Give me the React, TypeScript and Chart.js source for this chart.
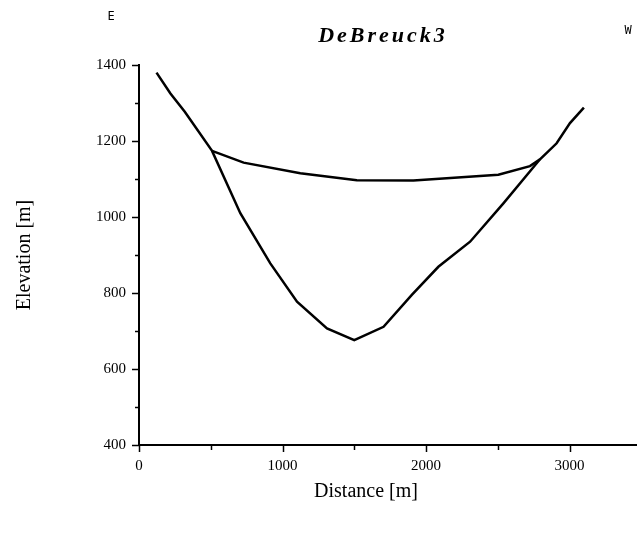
import { useEffect, useRef } from 'react';
import { Chart, registerables } from 'chart.js';

Chart.register(...registerables);

const chartTitle = 'DeBreuck3';
const leftSide = 'E';
const rightSide = 'W';
const xAxisTitle = 'Distance [m]';
const yAxisTitle = 'Elevation [m]';

// Bedrock (valley cross-section) profile
const bedDistance = [122, 219, 319, 509, 706, 915, 1101, 1310, 1500, 1704, 1901, 2086, 2307, 2539, 2794, 2910, 3003, 3100];
const bedElevation = [1380, 1325, 1277, 1174, 1010, 878, 777, 707, 676, 711, 795, 869, 935, 1036, 1152, 1194, 1247, 1288];

// Ice surface profile
const surfDistance = [509, 729, 1124, 1518, 1912, 2504, 2724, 2794];
const surfElevation = [1174, 1143, 1115, 1097, 1096, 1111, 1134, 1152];

const xMin = 0;
const xMax = 3470;
const yMin = 400;
const yMax = 1400;
const xMajorTicks = [0, 1000, 2000, 3000];
const xMinorTicks = [500, 1500, 2500];
const yMajorTicks = [400, 600, 800, 1000, 1200, 1400];
const yMinorTicks = [500, 700, 900, 1100, 1300];

const toPoints = (xs: number[], ys: number[]) => xs.map((x, i) => ({ x, y: ys[i] }));

const decorPlugin = {
  id: 'decor',
  afterDraw(chart: any) {
    const ctx = chart.ctx as CanvasRenderingContext2D;
    const xs = chart.scales.x;
    const ys = chart.scales.y;
    const area = chart.chartArea;
    ctx.save();
    ctx.strokeStyle = '#000';
    ctx.lineWidth = 1.5;
    const drawX = (v: number, len: number) => {
      const px = Math.round(xs.getPixelForValue(v)) + 0.5;
      ctx.beginPath();
      ctx.moveTo(px, area.bottom);
      ctx.lineTo(px, area.bottom + len);
      ctx.stroke();
    };
    xMajorTicks.forEach((v) => drawX(v, 7));
    xMinorTicks.forEach((v) => drawX(v, 5));
    const drawY = (v: number, len: number) => {
      const py = Math.round(ys.getPixelForValue(v)) + 0.5;
      ctx.beginPath();
      ctx.moveTo(area.left, py);
      ctx.lineTo(area.left - len, py);
      ctx.stroke();
    };
    yMajorTicks.forEach((v) => drawY(v, 7));
    yMinorTicks.forEach((v) => drawY(v, 4));

    ctx.fillStyle = '#000';
    ctx.font = 'italic bold 22px "Liberation Serif"';
    ctx.textAlign = 'center';
    ctx.textBaseline = 'alphabetic';
    (ctx as any).letterSpacing = '3px';
    ctx.fillText(chartTitle, 383, 42);
    (ctx as any).letterSpacing = '0px';
    ctx.font = '12px "DejaVu Sans Mono"';
    ctx.fillText(leftSide, 111, 20);
    ctx.fillText(rightSide, 628, 34);
    ctx.font = '20px "Liberation Serif"';
    ctx.fillText(xAxisTitle, 366, 497);
    ctx.save();
    ctx.translate(30, 255);
    ctx.rotate(-Math.PI / 2);
    ctx.fillText(yAxisTitle, 0, 0);
    ctx.restore();
    ctx.restore();
  },
};

export default function App() {
  const ref = useRef<HTMLCanvasElement | null>(null);
  useEffect(() => {
    if (!ref.current) return;
    const chart = new Chart(ref.current, {
      type: 'scatter',
      data: {
        datasets: [
          {
            data: toPoints(bedDistance, bedElevation),
            showLine: true,
            borderColor: '#000',
            borderWidth: 2.5,
            pointRadius: 0,
            tension: 0,
          },
          {
            data: toPoints(surfDistance, surfElevation),
            showLine: true,
            borderColor: '#000',
            borderWidth: 2.5,
            pointRadius: 0,
            tension: 0,
          },
        ],
      },
      options: {
        animation: false,
        responsive: false,
        events: [],
        layout: { padding: { top: 65, left: 0, right: 0, bottom: 0 } },
        plugins: { legend: { display: false }, tooltip: { enabled: false }, title: { display: false } },
        scales: {
          x: {
            type: 'linear',
            min: xMin,
            max: xMax,
            afterBuildTicks: (s: any) => { s.ticks = xMajorTicks.map((value) => ({ value })); },
            afterFit: (s: any) => { s.height = 91; },
            border: { display: true, color: '#000', width: 2 },
            grid: { display: true, drawOnChartArea: false, drawTicks: false },
            ticks: {
              padding: 12,
              color: '#000',
              maxRotation: 0,
              autoSkip: false,
              callback: (v: any) => String(v),
              font: { family: '"Liberation Serif"', size: 15 },
            },
          },
          y: {
            type: 'linear',
            min: yMin,
            max: yMax,
            afterBuildTicks: (s: any) => { s.ticks = yMajorTicks.map((value) => ({ value })); },
            afterFit: (s: any) => { s.width = 139; },
            border: { display: true, color: '#000', width: 2 },
            grid: { display: true, drawOnChartArea: false, drawTicks: false },
            ticks: {
              padding: 13,
              color: '#000',
              autoSkip: false,
              callback: (v: any) => String(v),
              font: { family: '"Liberation Serif"', size: 15 },
            },
          },
        },
      },
      plugins: [decorPlugin],
    });
    return () => chart.destroy();
  }, []);
  return (
    <div style={{ position: 'absolute', left: 0, top: 0, width: 637, height: 536, background: '#fff' }}>
      <canvas ref={ref} width={637} height={536} />
    </div>
  );
}
